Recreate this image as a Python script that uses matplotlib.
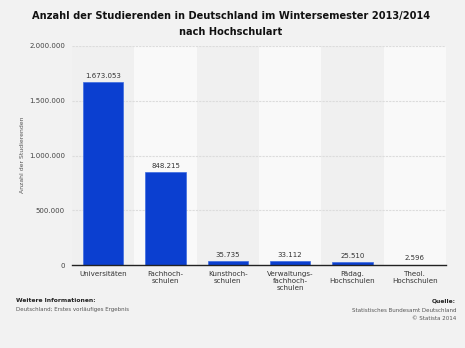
import matplotlib
matplotlib.use("Agg")
import matplotlib.pyplot as plt
from matplotlib.ticker import FuncFormatter

categories = ["Universitäten", "Fachhoch-\nschulen", "Kunsthoch-\nschulen",
              "Verwaltungs-\nfachhoch-\nschulen", "Pädag.\nHochschulen", "Theol.\nHochschulen"]
values = [1673053, 848215, 35735, 33112, 25510, 2596]
yticks = [0, 500000, 1000000, 1500000, 2000000]

def de(v):
    return f"{int(v):,}".replace(",", ".")

bg = "#f2f2f2"
fig = plt.figure(figsize=(4.65, 3.48), dpi=100, facecolor=bg)
ax = fig.add_axes([72/465, 1-265/348, (446-72)/465, (265-46)/348])
ax.set_facecolor(bg)

x = list(range(len(categories)))
for i in x:
    ax.axvspan(i-0.5, i+0.5, color=("#f0f0f0" if i % 2 == 0 else "#f9f9f9"), zorder=0, lw=0)

for t in yticks[1:]:
    ax.axhline(t, color="#dcdcdc", lw=0.8, ls=(0, (2, 1)), zorder=1)

bars = ax.bar(x, values, width=0.645, color="#0b3fd0", zorder=3, edgecolor="#3c6be0", linewidth=0.5)
for xi, v in zip(x, values):
    ax.text(xi, v + 30000, de(v), ha="center", va="bottom", fontsize=5.0, color="#333333", zorder=4)

ax.set_xlim(-0.5, len(categories)-0.5)
ax.set_ylim(0, 2000000)
ax.set_yticks(yticks)
ax.yaxis.set_major_formatter(FuncFormatter(lambda v, p: de(v)))
ax.set_xticks(x)
ax.set_xticklabels(categories, fontsize=5.1, color="#333333", linespacing=1.25)
ax.tick_params(axis="y", labelsize=5.0, labelcolor="#444444", length=0, pad=5)
ax.tick_params(axis="x", length=0, pad=4)
for s in ["top", "right", "left"]:
    ax.spines[s].set_visible(False)
ax.spines["bottom"].set_color("#222222")
ax.spines["bottom"].set_linewidth(1.0)
ax.spines["bottom"].set_zorder(5)

fig.text(22/465, 1-155/348, "Anzahl der Studierenden", rotation=90, ha="center", va="center",
         fontsize=4.4, color="#555555")

fig.text(0.497, 1-16/348, "Anzahl der Studierenden in Deutschland im Wintersemester 2013/2014",
         ha="center", va="center", fontsize=7.15, fontweight="bold", color="#111111")
fig.text(0.497, 1-32/348, "nach Hochschulart", ha="center", va="center",
         fontsize=7.15, fontweight="bold", color="#111111")

fig.text(16/465, 1-301/348, "Weitere Informationen:", ha="left", va="center",
         fontsize=4.3, fontweight="bold", color="#222222")
fig.text(16/465, 1-310/348, "Deutschland; Erstes vorläufiges Ergebnis", ha="left", va="center",
         fontsize=4.0, color="#555555")
fig.text(456/465, 1-301/348, "Quelle:", ha="right", va="center",
         fontsize=4.3, fontweight="bold", color="#222222")
fig.text(456/465, 1-310/348, "Statistisches Bundesamt Deutschland", ha="right", va="center",
         fontsize=4.0, color="#555555")
fig.text(456/465, 1-319/348, "© Statista 2014", ha="right", va="center",
         fontsize=4.0, color="#555555")

fig.savefig("out.png", dpi=100, facecolor=bg)
